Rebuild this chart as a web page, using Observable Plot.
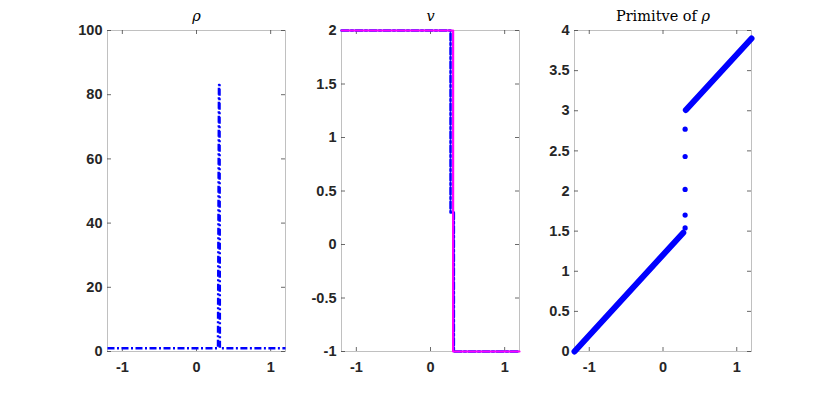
<!DOCTYPE html>
<html><head><meta charset="utf-8">
<script src="https://cdn.jsdelivr.net/npm/d3@7"></script>
<script src="https://cdn.jsdelivr.net/npm/@observablehq/plot@0.6"></script>
<style>
body{margin:0;background:#fff;}
#wrap{position:relative;width:830px;height:395px;overflow:hidden;background:#fff;}
#wrap > svg{position:absolute;top:0;}
</style></head><body><div id="wrap"></div>
<script>
// ---- data ----
const xTickValues = [-1, 0, 1];
const rhoYTicks = [0, 20, 40, 60, 80, 100];
const vYTicks = [-1, -0.5, 0, 0.5, 1, 1.5, 2];
const primYTicks = [0, 0.5, 1, 1.5, 2, 2.5, 3, 3.5, 4];

const rhoX   = [-1.2, 0.29, 0.303, 0.31, 0.315, 1.2];
const rhoVal = [1, 1, 83, 83, 1, 1];

const vNumX   = [-1.2, 0.27, 0.27, 0.315, 0.315, 1.2];
const vNumVal = [2, 2, 0.3, 0.3, -1, -1];
const vExactX   = [-1.2, 0.305, 0.305, 1.2];
const vExactVal = [2, 2, -1, -1];

const primLowX   = [-1.2, 0.275];
const primLowVal = [0, 1.48];
const primHighX   = [0.31, 1.2];
const primHighVal = [3.01, 3.9];
const primGapX   = [0.30, 0.30, 0.30, 0.30, 0.30];
const primGapVal = [1.54, 1.70, 2.02, 2.43, 2.77];

const titles = ["ρ", "v", "Primitve of ρ"];

// ---- layout ----
const H = 395, MT = 30, MB = 44;
const PH = H - MT - MB;
const BLUE = "#0000ff", MAG = "#ff00ff";
const pts = (xs, ys) => xs.map((x, i) => ({x, y: ys[i]}));
const fmt = d => String(d);
const DASH = "7,2.5,2,2.5";

function panel({left, width, ml, mr, ydomain, yticks, title, italic, marks}) {
  const PW = width - ml - mr;
  const svg = Plot.plot({
    width, height: H,
    marginLeft: ml, marginRight: mr, marginTop: MT, marginBottom: MB,
    x: {domain: [-1.2, 1.2]},
    y: {domain: ydomain},
    style: {fontFamily: "Liberation Sans, Arial, sans-serif", fontWeight: "bold", fontSize: "14.5px", color: "#262626", background: "transparent", overflow: "visible"},
    marks: [
      Plot.frame({stroke: "#c0c0c0", strokeWidth: 1}),
      Plot.tickX(xTickValues, {x: d => d, insetTop: PH - 4, stroke: "#444", strokeWidth: 0.8}),
      Plot.tickX(xTickValues, {x: d => d, insetBottom: PH - 4, stroke: "#444", strokeWidth: 0.8}),
      Plot.tickY(yticks, {y: d => d, insetRight: PW - 4, stroke: "#444", strokeWidth: 0.8}),
      Plot.tickY(yticks, {y: d => d, insetLeft: PW - 4, stroke: "#444", strokeWidth: 0.8}),
      Plot.axisX(xTickValues, {tickSize: 0, tickPadding: 10, tickFormat: fmt, label: null}),
      Plot.axisY(yticks, {tickSize: 0, tickPadding: 5, tickFormat: fmt, label: null}),
      ...marks,
      Plot.text([title], {frameAnchor: "top", dy: -10, lineAnchor: "bottom", fontFamily: "DejaVu Serif",
        fontStyle: italic ? "italic" : "normal", fontWeight: "normal", fontSize: 14.5, fill: "#000"})
    ]
  });
  svg.style.left = left + "px";
  document.getElementById("wrap").appendChild(svg);
  return svg;
}

panel({left: 0, width: 300, ml: 107, mr: 15, ydomain: [0, 100], yticks: rhoYTicks, title: titles[0], italic: true,
  marks: [
    Plot.line(pts(rhoX, rhoVal), {x: "x", y: "y", stroke: BLUE, strokeWidth: 2.5, strokeDasharray: DASH, strokeLinecap: "butt"})
  ]});

panel({left: 300, width: 245, ml: 41, mr: 26, ydomain: [-1, 2], yticks: vYTicks, title: titles[1], italic: true,
  marks: [
    Plot.line(pts(vNumX, vNumVal), {x: "x", y: "y", stroke: BLUE, strokeWidth: 2.5, strokeDasharray: DASH}),
    Plot.line(pts(vExactX, vExactVal), {x: "x", y: "y", stroke: MAG, strokeWidth: 2.2})
  ]});

const p3 = panel({left: 545, width: 285, ml: 29, mr: 79, ydomain: [0, 4], yticks: primYTicks, title: titles[2], italic: false,
  marks: [
    Plot.line(pts(primLowX, primLowVal), {x: "x", y: "y", stroke: BLUE, strokeWidth: 6, strokeLinecap: "round"}),
    Plot.line(pts(primHighX, primHighVal), {x: "x", y: "y", stroke: BLUE, strokeWidth: 6, strokeLinecap: "round"}),
    Plot.dot(pts(primGapX, primGapVal), {x: "x", y: "y", r: 2.6, fill: BLUE, stroke: "none"})
  ]});

// italic rho inside the third title
p3.querySelectorAll("text").forEach(t => {
  if (t.textContent === titles[2]) {
    t.textContent = "";
    const ns = "http://www.w3.org/2000/svg";
    const a = document.createElementNS(ns, "tspan"); a.textContent = "Primitve of ";
    const b = document.createElementNS(ns, "tspan"); b.textContent = "ρ"; b.setAttribute("font-style", "italic");
    t.appendChild(a); t.appendChild(b);
  }
});
</script>
</body></html>
